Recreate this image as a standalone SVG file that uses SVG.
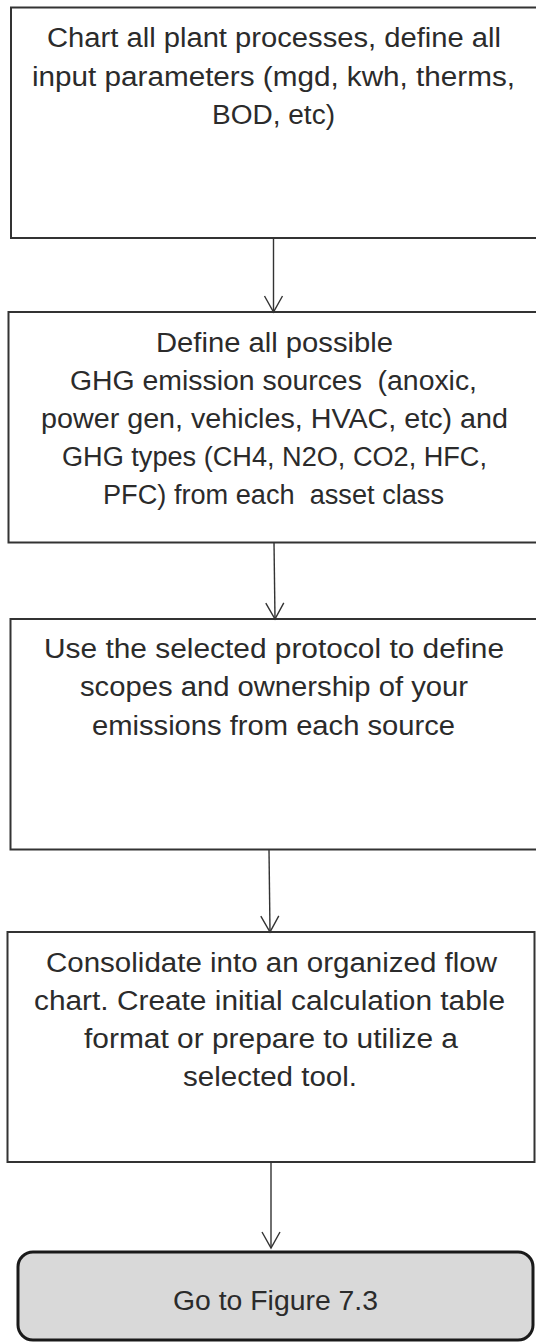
<svg xmlns="http://www.w3.org/2000/svg" width="536" height="1344" viewBox="0 0 536 1344">
<defs>
<style>
.box{fill:#ffffff;stroke:#333333;stroke-width:2}
.term{fill:#d9d9d9;stroke:#1a1a1a;stroke-width:3}
.t{font-family:"Liberation Sans",Arial,sans-serif;font-size:27px;fill:#2b2b2b}
.edge{stroke:#333333;stroke-width:1.4;fill:none}
</style>
<marker id="arr" markerUnits="userSpaceOnUse" markerWidth="24" markerHeight="24" viewBox="-20 -12 24 24" refX="0" refY="0" orient="auto">
<path d="M-16,-9 L0,0 L-16,9" fill="none" stroke="#333333" stroke-width="1.4"/>
</marker>
</defs>
<rect width="536" height="1344" fill="#ffffff"/>
<g id="n1">
<rect class="box" x="11" y="7.5" width="530" height="230.5"/>
<text class="t" x="47" y="47" textLength="454" lengthAdjust="spacingAndGlyphs">Chart all plant processes, define all</text>
<text class="t" x="32" y="86" textLength="483" lengthAdjust="spacingAndGlyphs">input parameters (mgd, kwh, therms,</text>
<text class="t" x="212" y="124" textLength="123" lengthAdjust="spacingAndGlyphs">BOD, etc)</text>
</g>
<g id="n2">
<rect class="box" x="8.5" y="312" width="532" height="230.5"/>
<text class="t" x="156" y="352" textLength="237" lengthAdjust="spacingAndGlyphs">Define all possible</text>
<text class="t" x="70" y="390" textLength="407" lengthAdjust="spacingAndGlyphs" xml:space="preserve">GHG emission sources  (anoxic,</text>
<text class="t" x="41" y="428" textLength="467" lengthAdjust="spacingAndGlyphs">power gen, vehicles, HVAC, etc) and</text>
<text class="t" x="62" y="466" textLength="425" lengthAdjust="spacingAndGlyphs">GHG types (CH4, N2O, CO2, HFC,</text>
<text class="t" x="103" y="504" textLength="341" lengthAdjust="spacingAndGlyphs" xml:space="preserve">PFC) from each  asset class</text>
</g>
<g id="n3">
<rect class="box" x="10.5" y="619" width="530" height="230.5"/>
<text class="t" x="44" y="658" textLength="460" lengthAdjust="spacingAndGlyphs">Use the selected protocol to define</text>
<text class="t" x="80" y="696" textLength="388" lengthAdjust="spacingAndGlyphs">scopes and ownership of your</text>
<text class="t" x="92" y="735" textLength="363" lengthAdjust="spacingAndGlyphs">emissions from each source</text>
</g>
<g id="n4">
<rect class="box" x="7.5" y="932" width="527" height="230"/>
<text class="t" x="46" y="972" textLength="451" lengthAdjust="spacingAndGlyphs">Consolidate into an organized flow</text>
<text class="t" x="34" y="1010" textLength="471" lengthAdjust="spacingAndGlyphs">chart. Create initial calculation table</text>
<text class="t" x="84" y="1048" textLength="374" lengthAdjust="spacingAndGlyphs">format or prepare to utilize a</text>
<text class="t" x="183" y="1086" textLength="174" lengthAdjust="spacingAndGlyphs">selected tool.</text>
</g>
<g id="n5">
<rect class="term" x="18" y="1252" width="515" height="88" rx="15" ry="15"/>
<text class="t" x="173" y="1310" textLength="205" lengthAdjust="spacingAndGlyphs">Go to Figure 7.3</text>
</g>
<g id="edges">
<line class="edge" x1="273.5" y1="238" x2="273.5" y2="312" marker-end="url(#arr)"/>
<line class="edge" x1="274" y1="542.5" x2="275" y2="619" marker-end="url(#arr)"/>
<line class="edge" x1="269" y1="849.5" x2="270" y2="932" marker-end="url(#arr)"/>
<line class="edge" x1="271" y1="1162" x2="271" y2="1248" marker-end="url(#arr)"/>
</g>
</svg>
